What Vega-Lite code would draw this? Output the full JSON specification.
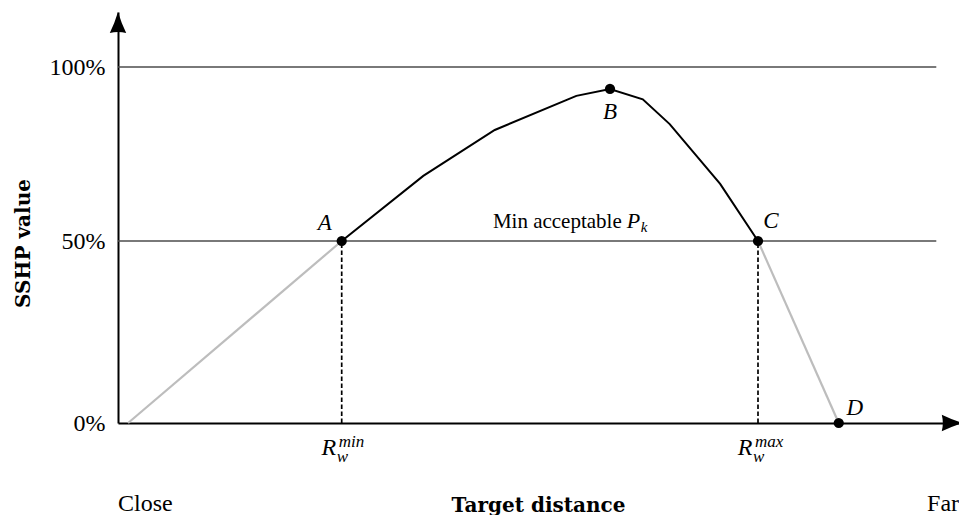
{
  "$schema": "https://vega.github.io/schema/vega-lite/v6.json",
  "width": 841,
  "height": 411,
  "autosize": "none",
  "padding": {"left": 118, "top": 12, "right": 0, "bottom": 92},
  "config": {"view": {"stroke": null}, "font": "Liberation Serif"},
  "datasets": {
    "curve": [
      {"d": 1.2, "p": 0, "seg": "g1", "tone": "outside"},
      {"d": 26.6, "p": 50, "seg": "g1", "tone": "outside"},
      {"d": 26.6, "p": 50, "seg": "b", "tone": "inside"},
      {"d": 36.3, "p": 68.7, "seg": "b", "tone": "inside"},
      {"d": 44.8, "p": 81.9, "seg": "b", "tone": "inside"},
      {"d": 54.5, "p": 91.7, "seg": "b", "tone": "inside"},
      {"d": 58.5, "p": 93.7, "seg": "b", "tone": "inside"},
      {"d": 62.4, "p": 90.7, "seg": "b", "tone": "inside"},
      {"d": 65.6, "p": 83.6, "seg": "b", "tone": "inside"},
      {"d": 71.6, "p": 66.4, "seg": "b", "tone": "inside"},
      {"d": 76.1, "p": 50, "seg": "b", "tone": "inside"},
      {"d": 76.1, "p": 50, "seg": "g2", "tone": "outside"},
      {"d": 85.7, "p": 0, "seg": "g2", "tone": "outside"}
    ],
    "points": [
      {"d": 26.6, "p": 50, "label": "A"},
      {"d": 58.5, "p": 93.7, "label": "B"},
      {"d": 76.1, "p": 50, "label": "C"},
      {"d": 85.7, "p": 0, "label": "D"}
    ],
    "levels": [
      {"p": 50, "d": 0, "d2": 97.3},
      {"p": 100, "d": 0, "d2": 97.3}
    ],
    "drops": [
      {"d": 26.6, "p": 0, "p2": 50, "sub": "min"},
      {"d": 76.1, "p": 0, "p2": 50, "sub": "max"}
    ],
    "arrowX": [{"d": 99.2, "p": 0}],
    "arrowY": [{"d": 0, "p": 112.8}],
    "ends": [
      {"d": 0, "p": 0, "text": "Close"},
      {"d": 96.2, "p": 0, "text": "Far"}
    ],
    "threshold": [{"d": 59.9, "p": 50, "text": "Min acceptable"}]
  },
  "encoding": {
    "x": {
      "field": "d", "type": "quantitative",
      "scale": {"domain": [0, 100], "nice": false, "zero": false},
      "axis": {
        "labels": false, "ticks": false, "grid": false,
        "domainColor": "black", "domainWidth": 2,
        "title": "Target distance", "titleFont": "DejaVu Serif", "titleFontSize": 20,
        "titleFontWeight": "bold", "titleColor": "black",
        "titleX": 420, "titleY": 88, "titleBaseline": "alphabetic", "titleAlign": "center"
      }
    },
    "y": {
      "field": "p", "type": "quantitative",
      "scale": {"domain": [0, 50, 100, 115.8], "range": [411, 229, 55, 0], "nice": false, "zero": false},
      "axis": {
        "values": [0, 50, 100], "labelExpr": "datum.value + '%'",
        "ticks": false, "tickSize": 0, "grid": false,
        "domainColor": "black", "domainWidth": 2,
        "labelFont": "Liberation Serif", "labelFontSize": 24, "labelColor": "black", "labelPadding": 13,
        "title": "SSHP value", "titleFont": "DejaVu Serif", "titleFontSize": 20,
        "titleFontWeight": "bold", "titleColor": "black",
        "titleX": -95, "titleY": 231, "titleAngle": -90, "titleBaseline": "middle", "titleAlign": "center"
      }
    }
  },
  "layer": [
    {
      "data": {"name": "levels"},
      "mark": {"type": "rule", "color": "#4d4d4d", "strokeWidth": 1.3},
      "encoding": {"x2": {"field": "d2"}}
    },
    {
      "data": {"name": "drops"},
      "mark": {"type": "rule", "color": "black", "strokeWidth": 1.7, "strokeDash": [4.5, 2.5]},
      "encoding": {"y2": {"field": "p2"}}
    },
    {
      "data": {"name": "curve"},
      "transform": [{"filter": "datum.tone == 'outside'"}],
      "mark": {"type": "line", "color": "#bdbdbd", "strokeWidth": 2.2},
      "encoding": {"detail": {"field": "seg"}}
    },
    {
      "data": {"name": "curve"},
      "transform": [{"filter": "datum.tone == 'inside'"}],
      "mark": {"type": "line", "color": "black", "strokeWidth": 2},
      "encoding": {}
    },
    {
      "data": {"name": "points"},
      "mark": {"type": "point", "shape": "circle", "filled": true, "color": "black", "size": 105, "opacity": 1}
    },
    {
      "data": {"name": "arrowX"},
      "mark": {"type": "point", "shape": "M1,0 Q0,-0.3 -1,-0.78 Q-0.8,0 -1,0.78 Q0,0.3 1,0 Z", "filled": true, "color": "black", "size": 441, "opacity": 1, "angle": 0}
    },
    {
      "data": {"name": "arrowY"},
      "mark": {"type": "point", "shape": "M1,0 Q0,-0.3 -1,-0.78 Q-0.8,0 -1,0.78 Q0,0.3 1,0 Z", "filled": true, "color": "black", "size": 441, "opacity": 1, "angle": 270}
    },
    {
      "data": {"name": "points"},
      "transform": [{"filter": "datum.label == 'A'"}],
      "mark": {"type": "text", "fontStyle": "italic", "fontSize": 23, "align": "center", "baseline": "alphabetic", "dx": -17, "dy": -11, "color": "black"},
      "encoding": {"text": {"field": "label"}}
    },
    {
      "data": {"name": "points"},
      "transform": [{"filter": "datum.label == 'B'"}],
      "mark": {"type": "text", "fontStyle": "italic", "fontSize": 23, "align": "center", "baseline": "alphabetic", "dx": 0, "dy": 30, "color": "black"},
      "encoding": {"text": {"field": "label"}}
    },
    {
      "data": {"name": "points"},
      "transform": [{"filter": "datum.label == 'C'"}],
      "mark": {"type": "text", "fontStyle": "italic", "fontSize": 23, "align": "center", "baseline": "alphabetic", "dx": 13, "dy": -13, "color": "black"},
      "encoding": {"text": {"field": "label"}}
    },
    {
      "data": {"name": "points"},
      "transform": [{"filter": "datum.label == 'D'"}],
      "mark": {"type": "text", "fontStyle": "italic", "fontSize": 23, "align": "center", "baseline": "alphabetic", "dx": 16, "dy": -8, "color": "black"},
      "encoding": {"text": {"field": "label"}}
    },
    {
      "data": {"name": "drops"},
      "mark": {"type": "text", "text": "R", "fontStyle": "italic", "fontSize": 24, "align": "center", "baseline": "alphabetic", "dx": -13, "dy": 32, "color": "black"}
    },
    {
      "data": {"name": "drops"},
      "mark": {"type": "text", "fontStyle": "italic", "fontSize": 17, "align": "left", "baseline": "alphabetic", "dx": -3, "dy": 24, "color": "black"},
      "encoding": {"text": {"field": "sub"}}
    },
    {
      "data": {"name": "drops"},
      "mark": {"type": "text", "text": "w", "fontStyle": "italic", "fontSize": 17, "align": "left", "baseline": "alphabetic", "dx": -5, "dy": 39, "color": "black"}
    },
    {
      "data": {"name": "ends"},
      "mark": {"type": "text", "fontSize": 24, "align": "left", "baseline": "alphabetic", "dy": 88, "color": "black"},
      "encoding": {"text": {"field": "text"}}
    },
    {
      "data": {"name": "threshold"},
      "mark": {"type": "text", "fontSize": 21, "align": "right", "baseline": "alphabetic", "dy": -13, "color": "black"},
      "encoding": {"text": {"field": "text"}}
    },
    {
      "data": {"name": "threshold"},
      "mark": {"type": "text", "text": "P", "fontStyle": "italic", "fontSize": 22, "align": "left", "baseline": "alphabetic", "dx": 5, "dy": -13, "color": "black"}
    },
    {
      "data": {"name": "threshold"},
      "mark": {"type": "text", "text": "k", "fontStyle": "italic", "fontSize": 15, "align": "left", "baseline": "alphabetic", "dx": 19, "dy": -9, "color": "black"}
    }
  ]
}
